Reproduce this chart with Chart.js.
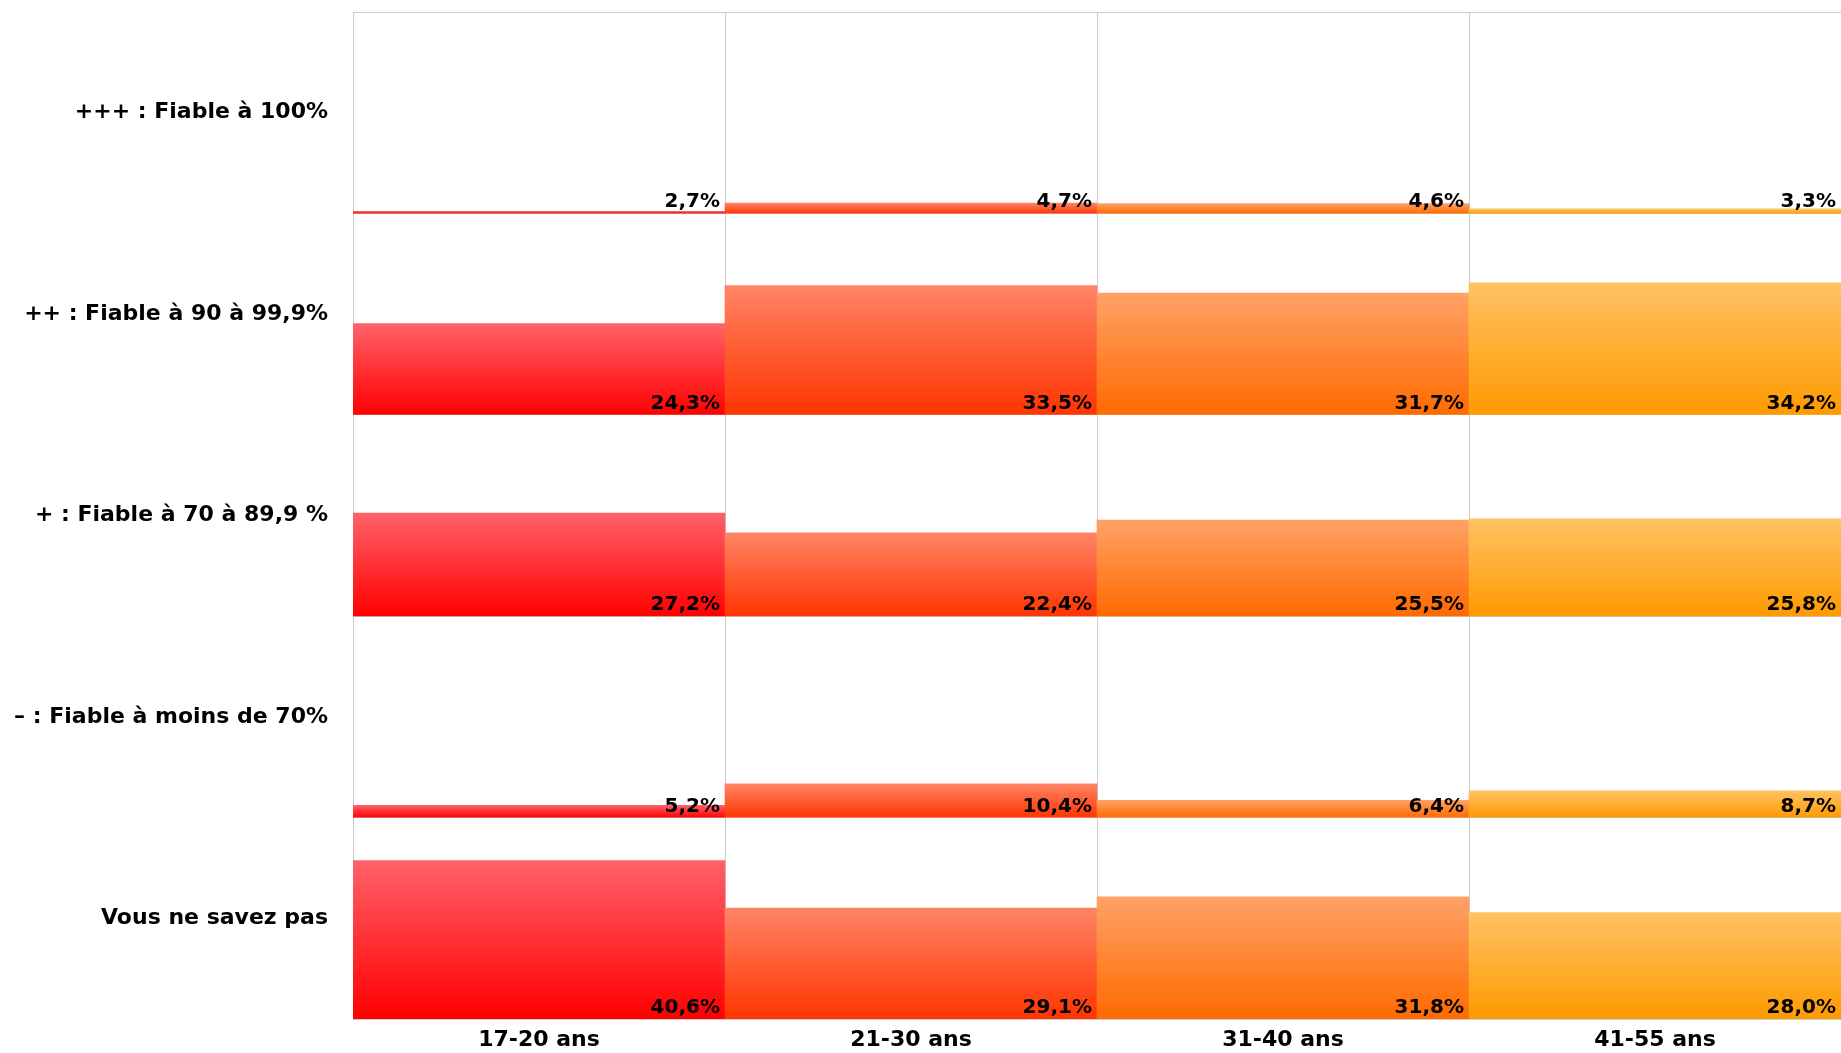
<!DOCTYPE html>
<html>
<head>
<meta charset="utf-8">
<script src="https://cdn.jsdelivr.net/npm/chart.js@4/dist/chart.umd.min.js"></script>
<style>
  html, body { margin: 0; padding: 0; background: #fff; }
  #wrap { width: 1841px; height: 1053px; position: relative; }
</style>
</head>
<body>
<div id="wrap"><canvas id="c"></canvas></div>
<script>
// ---- data ----
const ageGroups = ['17-20 ans', '21-30 ans', '31-40 ans', '41-55 ans'];
const rowLabels = [
  '+++ : Fiable à 100%',
  '++ : Fiable à 90 à 99,9%',
  '+ : Fiable à 70 à 89,9 %',
  '– : Fiable à moins de 70%',
  'Vous ne savez pas'
];
const fiable100   = [2.7, 4.7, 4.6, 3.3];
const fiable90    = [24.3, 33.5, 31.7, 34.2];
const fiable70    = [27.2, 22.4, 25.5, 25.8];
const fiableMoins = [5.2, 10.4, 6.4, 8.7];
const neSaitPas   = [40.6, 29.1, 31.8, 28.0];
const rowValues = [fiable100, fiable90, fiable70, fiableMoins, neSaitPas];

// ---- style ----
const FONT = "'DejaVu Sans', Verdana, sans-serif";
const colTop = ['#FF626A', '#FF8466', '#FFA266', '#FFC264'];
const colBottom = ['#FF0000', '#FF3500', '#FF6A00', '#FF9A00'];
const AXIS_MIN = 2.2, AXIS_MAX = 51;
const GRID = '#cccccc';

function barColor(ctx) {
  const chart = ctx.chart;
  const ds = ctx.dataset;
  const i = ctx.dataIndex;
  const scale = chart.scales[ds.yAxisID];
  if (!scale || !chart.chartArea || ctx.raw === undefined) return colBottom[i];
  const top = scale.getPixelForValue(ctx.raw);
  const base = scale.getBasePixel();
  if (!isFinite(top) || !isFinite(base) || top === base) return colBottom[i];
  const g = chart.ctx.createLinearGradient(0, top, 0, base);
  g.addColorStop(0, colTop[i]);
  g.addColorStop(1, colBottom[i]);
  return g;
}

const scales = {
  x: {
    type: 'category',
    position: 'bottom',
    grid: { color: GRID, offset: true, drawTicks: false, lineWidth: 1 },
    border: { color: GRID },
    ticks: { color: '#000', font: { family: FONT, size: 22, weight: 'bold' }, padding: 8 },
    afterFit: (s) => { s.height = 34; s.paddingLeft = 0; s.paddingRight = 0; }
  },
  xTop: {
    type: 'category',
    position: 'top',
    labels: ageGroups,
    grid: { display: false, drawTicks: false },
    border: { display: true, color: GRID },
    ticks: { display: false },
    afterFit: (s) => { s.height = 0; s.paddingLeft = 0; s.paddingRight = 0; }
  }
};

const datasets = [];
rowValues.forEach((vals, r) => {
  const id = 'y' + r;
  scales[id] = {
    type: 'linear',
    position: 'left',
    stack: 'rows',
    stackWeight: 1,
    weight: 10 - r,
    min: AXIS_MIN,
    max: AXIS_MAX,
    afterBuildTicks: (s) => { s.ticks = [{ value: AXIS_MIN }, { value: (AXIS_MIN + AXIS_MAX) / 2 }]; },
    afterFit: (s) => { s.width = 353; s.paddingTop = 0; s.paddingBottom = 0; },
    grid: {
      drawTicks: false,
      color: (c) => (c.index === 0 ? GRID : 'rgba(0,0,0,0)'),
      lineWidth: 1
    },
    border: { color: GRID },
    ticks: {
      autoSkip: false,
      padding: 25,
      color: '#000',
      font: { family: FONT, size: 22, weight: 'bold' },
      callback: (v, idx) => (idx === 1 ? rowLabels[r] : '')
    }
  };
  datasets.push({
    label: rowLabels[r],
    data: vals,
    yAxisID: id,
    xAxisID: 'x',
    grouped: false,
    backgroundColor: barColor,
    borderWidth: 0,
    barPercentage: 1,
    categoryPercentage: 1
  });
});

const valueLabels = {
  id: 'valueLabels',
  afterDatasetsDraw(chart) {
    const ctx = chart.ctx;
    ctx.save();
    ctx.font = 'bold 20px ' + FONT;
    ctx.fillStyle = '#000';
    ctx.textAlign = 'right';
    ctx.textBaseline = 'alphabetic';
    chart.data.datasets.forEach((ds, di) => {
      const meta = chart.getDatasetMeta(di);
      const yScale = chart.scales[ds.yAxisID];
      const baseY = yScale.getBasePixel();
      meta.data.forEach((el, i) => {
        const v = ds.data[i];
        const txt = v.toFixed(1).replace('.', ',') + '%';
        ctx.fillText(txt, el.x + el.width / 2 - 5, baseY - 6);
      });
    });
    ctx.restore();
  }
};

new Chart(document.getElementById('c'), {
  type: 'bar',
  data: { labels: ageGroups, datasets },
  options: {
    responsive: true,
    maintainAspectRatio: false,
    animation: false,
    layout: { padding: { top: 12, right: 0, left: 0, bottom: 0 } },
    plugins: { legend: { display: false }, tooltip: { enabled: false } },
    scales
  },
  plugins: [valueLabels]
});
</script>
</body>
</html>
